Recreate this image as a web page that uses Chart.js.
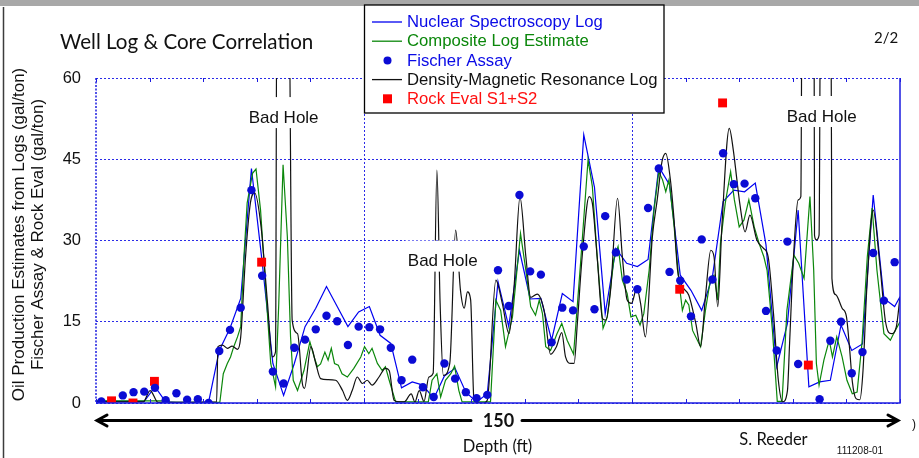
<!DOCTYPE html>
<html>
<head>
<meta charset="utf-8">
<title>Well Log &amp; Core Correlation</title>
<script src="https://cdn.jsdelivr.net/npm/chart.js@4.4.1/dist/chart.umd.min.js"></script>
<style>
  html, body { margin: 0; padding: 0; background: #fff; }
  #wrap { position: relative; width: 919px; height: 458px; }
  canvas { display: block; }
</style>
</head>
<body>
<div id="wrap"><canvas id="wellChart" width="919" height="458"></canvas></div>
<script>
/* ===== Data ===== */
const yTicks = [0, 15, 30, 45, 60];

// Nuclear Spectroscopy Log, sampled at the core depths
const nuclearDepth = [0, 1, 3, 5, 7, 9, 11, 13, 15, 17, 19, 21, 23, 25, 27, 29, 31, 33, 35, 37, 39, 41, 43, 45, 47, 49,
  51, 53, 55, 57, 59, 61, 63, 65, 67, 69, 71, 73, 75, 77, 79, 81, 83, 85, 87, 89, 91, 93, 95, 97, 99,
  101, 103, 105, 107, 109, 111, 113, 115, 117, 119, 121, 123, 125, 127, 129, 131, 133, 135, 137, 139, 141, 143, 145, 147, 149, 150];
const nuclearValue = [0.3, 0.3, 0.3, 0.3, 0.3, 0.3, 3.0, 0.2, 0.1, 0.1, 0.1, 0.1, 9.7, 13.8, 19.3, 43.3, 26.0, 7.3, 1.4, 7.3, 14.1, 17.5, 21.5, 17.8, 14.1, 16.8,
  17.8, 12.5, 11.0, 2.8, 3.9, 3.3, 0.8, 5.0, 6.4, 2.0, 0.2, 1.7, 22.4, 14.1, 28.2, 19.2, 19.3, 11.6, 20.2, 18.7, 49.5, 39.8, 16.5, 28.5, 25.8,
  25.2, 26.5, 43.6, 40.3, 23.6, 20.8, 17.1, 23.3, 37.2, 39.3, 39.0, 40.6, 29.2, 6.7, 14.7, 35.6, 3.0, 3.9, 4.2, 14.4, 9.7, 10.9, 38.4, 19.3, 17.8, 19.6];

// Composite Log Estimate
const compositeDepth = [0, 13, 14, 23.1, 23.75, 24.5, 25.1, 25.7, 26.4, 27.0, 27.6, 28.2, 29.2, 29.85, 30.7, 31.6, 32.6, 33.5, 34.1, 34.9,
  35.7, 36.3, 36.8, 37.6, 38.8, 39.9, 40.7, 41.3, 41.9, 42.7, 43.3, 43.9, 44.5, 45.2, 45.9, 46.9, 48.1, 49.4, 50.1, 50.9,
  51.5, 52.5, 53.4, 54.0, 54.7, 55.9, 62.0, 62.7, 63.6, 64.3, 65.2, 66.2, 66.9, 67.7, 68.3, 73.6, 74.6, 75.5, 76.4, 77.7,
  79.2, 80.2, 81.1, 82.0, 82.7, 83.3, 83.9, 84.8, 86.0, 86.9, 87.9, 89.1, 90.4, 91.8, 92.6, 93.5, 94.6, 95.4, 96.6, 97.4,
  98.2, 99.1, 99.8, 100.7, 101.5, 102.2, 103.2, 104.1, 105.0, 105.7, 106.3, 106.9, 107.8, 108.8, 109.4, 110.0, 110.6, 111.3, 112.2, 112.8,
  113.7, 114.7, 115.3, 116.0, 116.5, 117.4, 118.4, 119.1, 120.0, 120.9, 121.8, 122.8, 123.7, 124.6, 125.2, 126.2, 127.1, 128.0, 128.9, 130.2,
  131.1, 132.1, 133.2, 133.9, 134.4, 134.9, 135.8, 136.8, 137.4, 138.2, 139.2, 140.1, 141.1, 142.0, 142.9, 143.9, 144.8, 145.7, 147.0, 148.2, 148.8, 150];
const compositeValue = [0.4, 0.4, 0.1, 0.1, 5.4, 7.3, 8.5, 10.4, 12.2, 14.1, 27, 36.9, 42.4, 43.2, 35.6, 22.1, 7.3, 3.0, 18.4, 44.0,
  30.7, 12.2, 4.2, 2.3, 6.0, 11.3, 8.5, 6.7, 7.2, 9.4, 7.9, 10.1, 7.3, 7.0, 5.4, 4.8, 6.4, 8.5, 10.4, 9.1,
  10.1, 7.3, 6.0, 6.7, 4.2, 0.2, 0.2, 4.2, 5.4, 1.1, 4.2, 5.4, 6.8, 2.3, 0.2, 0.2, 19.0, 17.1, 10.4, 15.9,
  31.3, 24.5, 17.8, 16.2, 19.0, 16.5, 10.4, 9.7, 12.8, 14.7, 11.6, 9.0, 25.8, 44.9, 40.0, 27.0, 13.8, 15.9, 26.4, 28.9,
  22.7, 20.2, 15.9, 16.2, 14.4, 16.5, 24.5, 35.6, 42.7, 41.2, 39.0, 41.2, 33.2, 22.1, 17.1, 19.0, 18.1, 13.4, 11.6, 10.4,
  17.1, 23.3, 23.6, 19.0, 29.5, 36.9, 42.7, 37.5, 32.5, 33.8, 37.5, 32.5, 29.5, 27.0, 24.5, 13.4, 0.3, 0.3, 17.1, 27.3,
  25.8, 23.0, 38.1, 24.5, 7.3, 3.3, 7.9, 11.6, 8.5, 12.2, 8.5, 4.2, 1.7, 2.0, 11.0, 27.0, 36.0, 24.5, 12.8, 11.6, 12.8, 15.0];

// Fischer Assay (core samples)
const fischerDepth = [1, 5, 7, 9, 11, 13, 15, 17, 19, 21, 23, 25, 27, 29, 31, 33, 35, 37, 39, 41, 43, 45, 47, 49,
  51, 53, 55, 57, 59, 61, 63, 65, 67, 69, 71, 73, 75, 77, 79, 81, 83, 85, 87, 89, 91, 93, 95, 97, 99,
  101, 103, 105, 107, 109, 111, 113, 115, 117, 119, 121, 123, 125, 127, 129, 131, 135, 137, 139, 141, 143, 145, 147, 149];
const fischerValue = [0.3, 1.4, 2.0, 2.1, 2.8, 0.5, 1.8, 0.6, 0.7, 0, 9.6, 13.5, 17.6, 39.3, 23.5, 5.8, 3.6, 10.2, 11.7, 13.6, 16.1, 15.1, 10.7, 14.1,
  14.0, 13.6, 10.2, 4.2, 8.0, 2.9, 1.1, 7.3, 4.5, 2.0, 0.9, 1.5, 24.5, 17.9, 38.4, 24.3, 23.7, 11.2, 17.6, 17.1, 28.9, 17.3, 34.5, 27.8, 22.8,
  21.0, 36.0, 43.3, 24.2, 22.6, 16.0, 30.2, 22.8, 46.1, 40.4, 40.5, 37.8, 17.0, 9.7, 29.8, 7.2, 0.7, 11.5, 15.0, 5.5, 9.4, 27.7, 18.9, 26.0];

// Density-Magnetic Resonance Log (values above 60 run off the top in the bad hole zones)
const densityDepth = [0, 8.8, 10.1, 11.6, 22.5, 22.75, 23.6, 24.5, 25.4, 26.4, 27.0, 27.9, 28.8, 29.6, 30.8, 32.0, 32.9, 33.5, 33.75, 35.95,
  36.6, 37.6, 38.5, 38.9, 40.1, 41.0, 41.9, 43.2, 44.7, 46.0, 46.9, 47.8, 48.75, 49.7, 50.6, 51.5, 52.8, 54.0, 54.7, 55.6,
  56.8, 57.5, 58.8, 59.5, 60.3, 61.2, 62.1, 62.9, 63.6, 64.2, 64.8, 66.0, 67.1, 68.0, 68.7, 69.3, 69.9, 70.5, 71.0, 72.3,
  73.0, 74.6, 75.8, 77.05, 78.0, 79.1, 80.2, 81.1, 82.3, 83.6, 84.8, 85.9, 86.9, 87.6, 88.6, 89.2, 89.8, 90.7, 92.0, 92.6,
  93.5, 94.5, 95.1, 96.0, 97.3, 98.2, 99.1, 99.9, 100.9, 101.6, 102.5, 103.8, 104.7, 105.6, 106.3, 107.2, 107.8, 108.5, 109.4, 110.6,
  111.9, 112.8, 113.7, 114.7, 115.3, 116.0, 116.8, 118.15, 118.9, 119.5, 120.1, 121.1, 122.0, 123.3, 124.5, 125.4, 126.4, 127.3, 128.1, 129.0,
  129.4, 130.1, 131.0, 131.5, 131.75, 133.95, 134.05, 134.4, 134.9, 135.2, 137.1, 137.3, 138.0, 139.2, 140.0, 140.6, 141.1, 141.8, 142.5, 143.1,
  143.8, 145.0, 146.2, 147.3, 148.4, 149.3, 150];
const densityValue = [0.2, 0.2, 2.3, 0.1, 0.2, 10.4, 10.7, 10.1, 10.5, 9.9, 12.2, 27.0, 36.9, 38.8, 32.5, 18.4, 8.5, 9.5, 80, 80,
  15.3, 12.8, 3.6, 2.7, 10.4, 7.3, 4.5, 4.3, 4.2, 2.3, 0.5, 2.3, 4.8, 3.6, 4.2, 3.3, 4.8, 6.4, 6.0, 0.5,
  0.2, 0.2, 1.7, 0.2, 2.3, 0.3, 4.8, 5.5, 43.0, 18.4, 5.1, 7.3, 31.9, 20.8, 17.5, 20.5, 19.0, 0.8, 0.1, 0,
  0.5, 22.7, 18.4, 12.8, 21.5, 38.0, 27.0, 19.5, 20.1, 17.1, 9.0, 10.4, 13.0, 8.5, 7.3, 7.3, 14.7, 27.0, 38.1, 36.9,
  27.0, 15.6, 15.3, 20.8, 37.8, 27.0, 19.0, 18.4, 21.2, 18.4, 12.2, 30.7, 37.5, 44.6, 46.1, 40.9, 34.4, 24.5, 21.5, 19.9,
  14.7, 10.4, 19.6, 28.2, 27.0, 17.8, 33.2, 50.7, 46.7, 41.8, 36.9, 31.6, 34.7, 30.1, 28.6, 27.0, 16.5, 4.2, 0.2, 2.3,
  11.0, 26.4, 37.5, 38.1, 80, 80, 31, 30.1, 31, 80, 80, 23, 20.0, 17.5, 16.0, 10.0, 4.0, 0.8, 0.6, 6.0,
  21.0, 35.6, 26.0, 15.0, 12.8, 14.0, 19.6];

// Rock Eval S1+S2
const rockEvalDepth = [2.9, 6.9, 10.9, 30.9, 108.9, 116.9, 132.9];
const rockEvalValue = [0.4, 0, 4.0, 26.0, 21.0, 55.4, 7.0];

// "Bad Hole" notes: depth (ft), level (gal/ton)
const badHoleDepth = [35.0, 64.7, 135.4];
const badHoleLevel = [52.6, 26.1, 52.8];

/* ===== Styles ===== */
const PLOT_FONT = "'Liberation Sans', Arial, sans-serif";
const SLIDE_FONT = "Lato, 'Open Sans', sans-serif";
const GRID_BLUE = "#2b2be8";
const AXIS_BLUE = "#1c1ce0";

function toPoints(depths, values) {
  return depths.map((d, i) => ({ x: d, y: values[i] }));
}

/* ===== Slide decorations, legend and notes ===== */
const wellDecor = {
  id: "wellDecor",
  beforeDraw(chart) {
    const ctx = chart.ctx;
    ctx.save();
    ctx.fillStyle = "#fff";
    ctx.fillRect(0, 0, chart.width, chart.height);
    ctx.fillStyle = "#a8a8a8";
    ctx.fillRect(0, 0, chart.width, 6);
    ctx.strokeStyle = "#3c3c3c";
    ctx.lineWidth = 1.5;
    ctx.beginPath();
    ctx.moveTo(3.5, 7);
    ctx.lineTo(3.5, chart.height);
    ctx.stroke();
    ctx.restore();
  },
  afterDatasetsDraw(chart) {
    const { ctx, chartArea: a, scales: { x, y } } = chart;
    ctx.save();

    // frame
    ctx.strokeStyle = AXIS_BLUE;
    ctx.lineWidth = 1.5;
    ctx.beginPath();
    ctx.moveTo(a.left, a.bottom);
    ctx.lineTo(a.right, a.bottom);
    ctx.lineTo(a.right, a.top);
    ctx.stroke();
    ctx.setLineDash([2, 1.5]);
    ctx.beginPath();
    ctx.moveTo(a.left, a.top);
    ctx.lineTo(a.left, a.bottom);
    ctx.stroke();
    ctx.setLineDash([]);

    // inward depth ticks, top and bottom
    ctx.lineWidth = 1;
    x.ticks.forEach((t) => {
      const px = Math.round(x.getPixelForValue(t.value)) + 0.5;
      ctx.beginPath();
      ctx.moveTo(px, a.top);
      ctx.lineTo(px, a.top + 4);
      ctx.moveTo(px, a.bottom);
      ctx.lineTo(px, a.bottom - 4);
      ctx.stroke();
    });

    // Bad Hole notes (white box hides the log traces)
    ctx.font = `17px ${PLOT_FONT}`;
    ctx.textAlign = "center";
    ctx.textBaseline = "middle";
    badHoleDepth.forEach((d, i) => {
      const cx = x.getPixelForValue(d);
      const cy = y.getPixelForValue(badHoleLevel[i]);
      const w = ctx.measureText("Bad Hole").width;
      ctx.fillStyle = "#fff";
      ctx.fillRect(cx - w / 2 - 3, cy - 21, w + 6, 31);
      ctx.fillStyle = "#111";
      ctx.fillText("Bad Hole", cx, cy);
    });

    // legend box
    const lx = 364.5, ly = 5, lw = 299.5, lh = 108;
    ctx.fillStyle = "#fff";
    ctx.fillRect(lx, ly, lw, lh);
    ctx.strokeStyle = "#000";
    ctx.lineWidth = 1.3;
    ctx.strokeRect(lx, ly, lw, lh);
    ctx.font = `16.7px ${PLOT_FONT}`;
    ctx.textAlign = "left";
    chart.data.datasets.forEach((ds, i) => {
      const rowY = 22 + i * 19.2;
      const color = ds.showLine === false ? ds.pointBackgroundColor : ds.borderColor;
      if (ds.showLine === false) {
        ctx.fillStyle = color;
        if (ds.pointStyle === "rect") {
          ctx.fillRect(383, rowY - 4.5, 9, 9);
        } else {
          ctx.beginPath();
          ctx.arc(387.5, rowY, 4, 0, Math.PI * 2);
          ctx.fill();
        }
      } else {
        ctx.strokeStyle = color;
        ctx.lineWidth = 1.3;
        ctx.beginPath();
        ctx.moveTo(372, rowY);
        ctx.lineTo(402, rowY);
        ctx.stroke();
      }
      ctx.fillStyle = ds.legendText;
      ctx.fillText(ds.label, 407, rowY + 0.5);
    });
    ctx.restore();
  },
  afterDraw(chart) {
    const { ctx, chartArea: a } = chart;
    ctx.save();
    ctx.fillStyle = "#111";

    // slide title and page number
    ctx.textBaseline = "alphabetic";
    ctx.textAlign = "left";
    ctx.font = `20.6px ${SLIDE_FONT}`;
    ctx.fillText("Well Log & Core Correlation", 60, 49);
    ctx.font = `15px ${SLIDE_FONT}`;
    ctx.fillText("2/2", 874, 43);

    // y axis title, two rotated lines
    ctx.font = `17px ${PLOT_FONT}`;
    ctx.textAlign = "center";
    ctx.textBaseline = "middle";
    const midY = (a.top + a.bottom) / 2 - 6;
    [["Oil Production Estimates from Logs (gal/ton)", 19.5], ["Fischer Assay & Rock Eval (gal/ton)", 38.5]].forEach(([txt, tx]) => {
      ctx.save();
      ctx.translate(tx, midY);
      ctx.rotate(-Math.PI / 2);
      ctx.fillText(txt, 0, 0);
      ctx.restore();
    });

    // depth arrow with 150 ft span
    const ay = 420.5;
    ctx.strokeStyle = "#000";
    ctx.lineWidth = 3;
    ctx.lineCap = "round";
    ctx.beginPath();
    ctx.moveTo(a.left + 1, ay);
    ctx.lineTo(471, ay);
    ctx.moveTo(522, ay);
    ctx.lineTo(a.right - 2, ay);
    ctx.moveTo(a.left + 11, ay - 5.5);
    ctx.lineTo(a.left + 1, ay);
    ctx.lineTo(a.left + 11, ay + 5.5);
    ctx.moveTo(a.right - 12, ay - 5.5);
    ctx.lineTo(a.right - 2, ay);
    ctx.lineTo(a.right - 12, ay + 5.5);
    ctx.stroke();

    ctx.font = `bold 18px ${SLIDE_FONT}`;
    ctx.fillText("150", 498.5, ay + 1);
    ctx.font = `16.5px ${SLIDE_FONT}`;
    ctx.fillText("Depth (ft)", 497.5, 447);
    ctx.fillText("S. Reeder", 773.5, 440);
    ctx.font = `10px ${PLOT_FONT}`;
    ctx.fillText("111208-01", 860, 451.5);
    ctx.font = `12px ${PLOT_FONT}`;
    ctx.fillText(")", 914, 425);
    ctx.restore();
  },
};

/* ===== Chart ===== */
new Chart(document.getElementById("wellChart"), {
  type: "line",
  data: {
    datasets: [
      {
        label: "Nuclear Spectroscopy Log",
        data: toPoints(nuclearDepth, nuclearValue),
        borderColor: "#0000f0",
        legendText: "#0a0ae6",
        borderWidth: 1.2,
        pointRadius: 0,
        tension: 0,
        order: 4,
      },
      {
        label: "Composite Log Estimate",
        data: toPoints(compositeDepth, compositeValue),
        borderColor: "#0b870b",
        legendText: "#0b870b",
        borderWidth: 1.2,
        pointRadius: 0,
        tension: 0,
        order: 3,
      },
      {
        label: "Fischer Assay",
        data: toPoints(fischerDepth, fischerValue),
        showLine: false,
        pointRadius: 4.2,
        pointBackgroundColor: "#0b0bd4",
        pointBorderWidth: 0,
        legendText: "#0a0ae6",
        order: 0,
      },
      {
        label: "Density-Magnetic Resonance Log",
        data: toPoints(densityDepth, densityValue),
        borderColor: "#111111",
        legendText: "#111111",
        borderWidth: 1.2,
        pointRadius: 0,
        cubicInterpolationMode: "monotone",
        order: 2,
      },
      {
        label: "Rock Eval S1+S2",
        data: toPoints(rockEvalDepth, rockEvalValue),
        showLine: false,
        pointStyle: "rect",
        pointRadius: 6.3,
        pointBackgroundColor: "#ff0000",
        pointBorderWidth: 0,
        legendText: "#ff1010",
        order: 1,
      },
    ],
  },
  options: {
    responsive: false,
    animation: false,
    devicePixelRatio: 1,
    layout: { padding: { left: 0, right: 19, top: 78, bottom: 55 } },
    plugins: { legend: { display: false }, tooltip: { enabled: false } },
    scales: {
      x: {
        type: "linear",
        min: 0,
        max: 150,
        ticks: { stepSize: 10, display: false },
        grid: {
          drawTicks: false,
          color: (c) => (c.tick && (c.tick.value === 50 || c.tick.value === 100) ? GRID_BLUE : "rgba(0,0,0,0)"),
          lineWidth: 1,
        },
        border: { display: false, dash: [2, 2] },
        afterFit: (s) => { s.height = 0; },
      },
      y: {
        min: 0,
        max: 60,
        afterBuildTicks: (s) => { s.ticks = yTicks.map((v) => ({ value: v })); },
        ticks: { padding: 15, color: "#111", font: { family: PLOT_FONT, size: 16.5 } },
        grid: { drawTicks: false, color: GRID_BLUE, lineWidth: 1 },
        border: { display: false, dash: [2, 2] },
        afterFit: (s) => { s.width = 96; },
      },
    },
  },
  plugins: [wellDecor],
});
</script>
</body>
</html>
